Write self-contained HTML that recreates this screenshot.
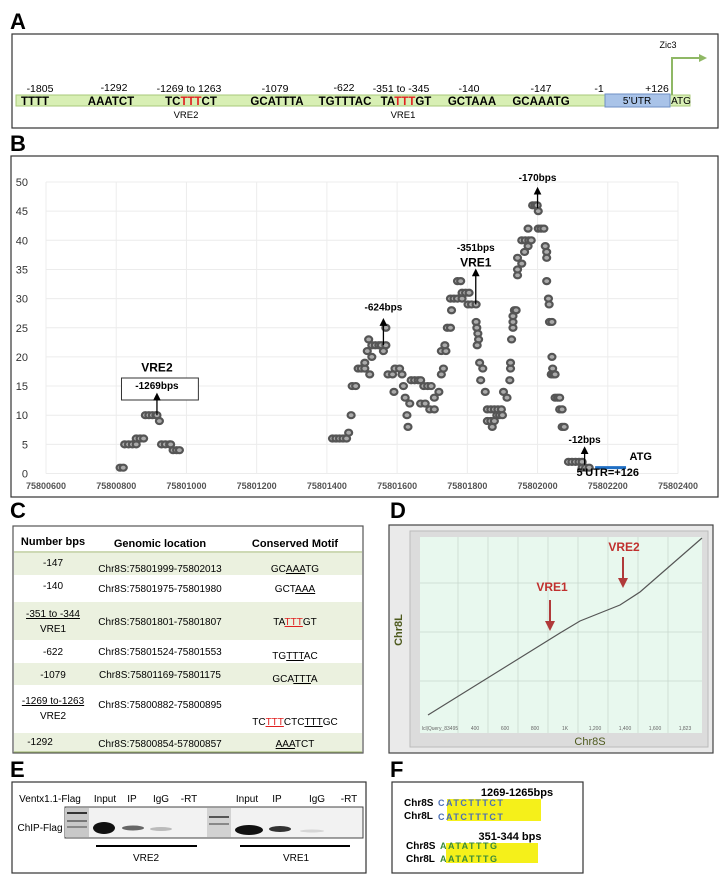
<!DOCTYPE html>
<html><head><meta charset="utf-8"><style>
html,body{margin:0;padding:0;background:#fff;}
svg{display:block;font-family:"Liberation Sans",sans-serif;}
.pl{font-size:22px;font-weight:bold;fill:#000;}
</style></head><body>
<svg id="fig" width="726" height="887" viewBox="0 0 726 887" xmlns="http://www.w3.org/2000/svg">
<defs><marker id="ah" markerWidth="6" markerHeight="6" refX="3" refY="3" orient="auto"><path d="M0,0 L6,3 L0,6 z" fill="#000"/></marker>
<marker id="rh" markerWidth="5" markerHeight="5" refX="2.5" refY="2.5" orient="auto"><path d="M0,0 L5,2.5 L0,5 z" fill="#b03a3a"/></marker></defs>

<!-- Panel A -->
<text class="pl" x="10" y="29">A</text>
<g>
<rect x="12" y="34" width="706" height="94" fill="#fff" stroke="#333" stroke-width="1.2"/>
<rect x="16" y="95" width="674" height="11" fill="#d8efb4" stroke="#a9c97a"/>
<rect x="605" y="94" width="65" height="13" fill="#a9c3e8" stroke="#6e8fc4"/>
<text x="637" y="104" font-size="10" text-anchor="middle">5’UTR</text>
<text x="681" y="104" font-size="10" text-anchor="middle">ATG</text>
<polyline points="672,95 672,58 700,58" fill="none" stroke="#8fb865" stroke-width="2"/>
<path d="M699,54 L707,58 L699,62 z" fill="#8fb865"/>
<text x="668" y="48" font-size="9" text-anchor="middle">Zic3</text>
<g font-size="10.5" text-anchor="middle">
<text x="40" y="92">-1805</text><text x="114" y="91">-1292</text><text x="189" y="92">-1269 to 1263</text>
<text x="275" y="92">-1079</text><text x="344" y="91">-622</text><text x="401" y="92">-351 to -345</text>
<text x="469" y="92">-140</text><text x="541" y="92">-147</text><text x="599" y="92">-1</text><text x="657" y="92">+126</text>
</g>
<g font-size="11.5" font-weight="bold" text-anchor="middle">
<text x="35" y="105">TTTT</text><text x="111" y="105">AAATCT</text>
<text x="191" y="105">TC<tspan fill="#e02020">TTT</tspan>CT</text>
<text x="277" y="105">GCATTTA</text><text x="345" y="105">TGTTTAC</text>
<text x="406" y="105">TA<tspan fill="#e02020">TTT</tspan>GT</text>
<text x="472" y="105">GCTAAA</text><text x="541" y="105">GCAAATG</text>
</g>
<text x="186" y="118" font-size="9.5" text-anchor="middle">VRE2</text>
<text x="403" y="118" font-size="9.5" text-anchor="middle">VRE1</text>
</g>

<!-- Panel B -->
<text class="pl" x="10" y="151">B</text>
<rect x="11" y="156" width="707" height="341" fill="#fff" stroke="#333" stroke-width="1.2"/>
<g id="chartB"></g>

<!-- Panel C -->
<text class="pl" x="10" y="518">C</text>
<g font-size="10">
<rect x="13" y="526" width="350" height="227" fill="#fff" stroke="#555" stroke-width="1.2"/>
<rect x="14" y="553" width="348" height="22" fill="#ebf1df"/>
<rect x="14" y="602" width="348" height="38" fill="#ebf1df"/>
<rect x="14" y="663" width="348" height="22" fill="#ebf1df"/>
<rect x="14" y="733" width="348" height="19" fill="#ebf1df"/>
<line x1="14" y1="552" x2="362" y2="552" stroke="#9bb36a"/>
<line x1="14" y1="752" x2="362" y2="752" stroke="#9bb36a"/>
<g font-weight="bold" font-size="11" text-anchor="middle"><text x="53" y="545">Number bps</text><text x="160" y="547">Genomic location</text><text x="295" y="547">Conserved Motif</text></g>
<g text-anchor="middle">
<text x="53" y="566">-147</text><text x="160" y="572">Chr8S:75801999-75802013</text><text x="295" y="572">GC<tspan text-decoration="underline">AAA</tspan>TG</text>
<text x="53" y="589">-140</text><text x="160" y="592">Chr8S:75801975-75801980</text><text x="295" y="592">GCT<tspan text-decoration="underline">AAA</tspan></text>
<text x="53" y="617" text-decoration="underline">-351 to -344</text><text x="53" y="632">VRE1</text><text x="160" y="625">Chr8S:75801801-75801807</text><text x="295" y="625">TA<tspan fill="#e02020" text-decoration="underline">TTT</tspan>GT</text>
<text x="53" y="655">-622</text><text x="160" y="655">Chr8S:75801524-75801553</text><text x="295" y="659">TG<tspan text-decoration="underline">TTT</tspan>AC</text>
<text x="53" y="678">-1079</text><text x="160" y="678">Chr8S:75801169-75801175</text><text x="295" y="682">GCA<tspan text-decoration="underline">TTT</tspan>A</text>
<text x="53" y="704" text-decoration="underline">-1269 to-1263</text><text x="53" y="719">VRE2</text><text x="160" y="708">Chr8S:75800882-75800895</text><text x="295" y="725">TC<tspan fill="#e02020" text-decoration="underline">TTT</tspan>CTC<tspan text-decoration="underline">TTT</tspan>GC</text>
<text x="40" y="745">-1292</text><text x="160" y="747">Chr8S:75800854-57800857</text><text x="295" y="747"><tspan text-decoration="underline">AAA</tspan>TCT</text>
</g></g>

<!-- Panel D -->
<text class="pl" x="390" y="518">D</text>
<g>
<rect x="389" y="525" width="324" height="228" fill="#eaeaea" stroke="#444" stroke-width="1.2"/>
<rect x="410" y="531" width="298" height="216" fill="#dcdcdc" stroke="#bbb"/>
<rect x="420" y="537" width="282" height="196" fill="#e8f8ee"/>
<g stroke="#c8d8ce" stroke-width="0.8">
<line x1="458" y1="537" x2="458" y2="733"/><line x1="488" y1="537" x2="488" y2="733"/><line x1="518" y1="537" x2="518" y2="733"/><line x1="548" y1="537" x2="548" y2="733"/><line x1="578" y1="537" x2="578" y2="733"/><line x1="608" y1="537" x2="608" y2="733"/><line x1="638" y1="537" x2="638" y2="733"/><line x1="668" y1="537" x2="668" y2="733"/>
<line x1="420" y1="583" x2="702" y2="583"/><line x1="420" y1="632" x2="702" y2="632"/><line x1="420" y1="681" x2="702" y2="681"/>
</g>
<polyline points="428,715 560,633 580,621 600,613 620,605 640,592 702,538" fill="none" stroke="#555" stroke-width="1.2"/>
<g font-size="5" fill="#666" text-anchor="middle"><text x="440" y="730">lcl|Query_83495</text><text x="475" y="730">400</text><text x="505" y="730">600</text><text x="535" y="730">800</text><text x="565" y="730">1K</text><text x="595" y="730">1,200</text><text x="625" y="730">1,400</text><text x="655" y="730">1,600</text><text x="685" y="730">1,823</text></g>
<text x="590" y="745" font-size="11" fill="#4e5a1e" text-anchor="middle">Chr8S</text>
<text x="402" y="630" font-size="11" font-weight="bold" fill="#4e5a1e" text-anchor="middle" transform="rotate(-90 402 630)">Chr8L</text>
<text x="552" y="591" font-size="12" font-weight="bold" fill="#c0302e" text-anchor="middle">VRE1</text>
<line x1="550" y1="600" x2="550" y2="626" stroke="#b03a3a" stroke-width="2" marker-end="url(#rh)"/>
<text x="624" y="551" font-size="12" font-weight="bold" fill="#c0302e" text-anchor="middle">VRE2</text>
<line x1="623" y1="557" x2="623" y2="583" stroke="#b03a3a" stroke-width="2" marker-end="url(#rh)"/>
</g>

<!-- Panel E -->
<text class="pl" x="10" y="777">E</text>
<g>
<rect x="12" y="782" width="354" height="91" fill="#fff" stroke="#333" stroke-width="1.2"/>
<g font-size="10" text-anchor="middle"><text x="50" y="802">Ventx1.1-Flag</text><text x="105" y="802">Input</text><text x="132" y="802">IP</text><text x="161" y="802">IgG</text><text x="189" y="802">-RT</text><text x="247" y="802">Input</text><text x="277" y="802">IP</text><text x="317" y="802">IgG</text><text x="349" y="802">-RT</text>
<text x="40" y="831">ChIP-Flag</text></g>
<rect x="65" y="807" width="298" height="31" fill="#f2f2f2" stroke="#444"/>
<rect x="65" y="808" width="24" height="29" fill="#c8c8c8"/>
<rect x="67" y="812" width="20" height="2" fill="#333"/><rect x="67" y="820" width="20" height="2" fill="#777"/><rect x="67" y="826" width="20" height="2" fill="#888"/>
<rect x="207" y="808" width="24" height="29" fill="#d2d2d2"/>
<rect x="209" y="816" width="20" height="2" fill="#555"/><rect x="209" y="823" width="20" height="2" fill="#888"/>
<ellipse cx="104" cy="828" rx="11" ry="6" fill="#111"/>
<ellipse cx="133" cy="828" rx="11" ry="2.5" fill="#666"/>
<ellipse cx="161" cy="829" rx="11" ry="2" fill="#bbb"/>
<ellipse cx="249" cy="830" rx="14" ry="5" fill="#111"/>
<ellipse cx="280" cy="829" rx="11" ry="3" fill="#333"/>
<ellipse cx="312" cy="831" rx="12" ry="1.5" fill="#d6d6d6"/>
<line x1="96" y1="846" x2="197" y2="846" stroke="#000" stroke-width="2"/>
<line x1="240" y1="846" x2="350" y2="846" stroke="#000" stroke-width="2"/>
<text x="146" y="861" font-size="10" text-anchor="middle">VRE2</text><text x="296" y="861" font-size="10" text-anchor="middle">VRE1</text>
</g>

<!-- Panel F -->
<text class="pl" x="390" y="777">F</text>
<g>
<rect x="392" y="782" width="191" height="91" fill="#fff" stroke="#333" stroke-width="1.2"/>
<text x="517" y="796" font-size="11" font-weight="bold" text-anchor="middle">1269-1265bps</text>
<rect x="447" y="799" width="94" height="22" fill="#f5f01a"/>
<text x="404" y="806" font-size="10" font-weight="bold">Chr8S</text><text x="404" y="819" font-size="10" font-weight="bold">Chr8L</text>
<text x="438" y="806" font-size="9" font-weight="bold" fill="#4b6fb5" letter-spacing="1.5">CATCTTTCT</text>
<text x="438" y="820" font-size="9" font-weight="bold" fill="#4b6fb5" letter-spacing="1.5">CATCTTTCT</text>
<text x="510" y="840" font-size="11" font-weight="bold" text-anchor="middle">351-344 bps</text>
<rect x="446" y="843" width="92" height="20" fill="#f5f01a"/>
<text x="406" y="849" font-size="10" font-weight="bold">Chr8S</text><text x="406" y="862" font-size="10" font-weight="bold">Chr8L</text>
<text x="440" y="849" font-size="9" font-weight="bold" fill="#3a8a3a" letter-spacing="1.5">AATATTTG</text>
<text x="440" y="862" font-size="9" font-weight="bold" fill="#3a8a3a" letter-spacing="1.5">AATATTTG</text>
</g>
</svg>
<script>
const xTicks = [75800600,75800800,75801000,75801200,75801400,75801600,75801800,75802000,75802200,75802400];
const yTicks = [0,5,10,15,20,25,30,35,40,45,50];
const posX = [75800811,75800820,75800824,75800835,75800846,75800857,75800857,75800868,75800878,75800883,75800893,75800903,75800913,75800916,75800923,75800929,75800940,75800952,75800955,75800962,75800972,75800980,
75801416,75801426,75801436,75801446,75801456,75801462,75801469,75801472,75801482,75801489,75801498,75801508,75801508,75801522,75801515,75801528,75801538,75801548,75801555,75801519,75801528,75801568,75801568,75801561,
75801574,75801587,75801594,75801607,75801614,75801591,75801618,75801623,75801628,75801631,75801636,75801640,75801650,75801660,75801667,75801667,75801680,75801676,75801687,75801697,75801693,75801706,75801706,75801719,75801726,75801732,75801726,75801739,75801736,75801743,75801752,75801755,
75801752,75801762,75801772,75801785,75801772,75801781,75801785,75801795,75801805,75801802,75801812,75801825,75801825,75801827,75801830,75801832,75801828,75801835,75801844,75801838,75801851,75801857,75801867,75801877,75801887,75801897,75801857,75801867,75801877,75801871,75801884,75801892,75801900,
75801903,75801913,75801921,75801923,75801923,75801926,75801930,75801930,75801930,75801934,75801939,75801943,75801943,75801943,75801955,75801963,75801955,75801965,75801975,75801982,75801973,75801973,75801986,75801993,75801999,75802002,75802002,75802010,75802018,75802022,75802026,75802026,75802026,
75802031,75802033,75802034,75802041,75802041,75802043,75802039,75802045,75802050,75802050,75802057,75802063,75802063,75802070,75802070,75802076,75802088,75802098,75802108,75802118,75802127,75802127,75802137,75802147];
const posY = [1,1,5,5,5,5,6,6,6,10,10,10,10,10,9,5,5,5,5,4,4,4,
6,6,6,6,6,7,10,15,15,18,18,18,19,17,21,22,22,22,22,23,20,25,22,21,
17,17,18,18,17,14,15,13,10,8,12,16,16,16,16,12,12,15,15,15,11,11,13,14,17,18,21,21,22,25,25,28,
30,30,30,30,33,33,31,31,31,29,29,29,26,25,24,23,22,19,18,16,14,11,11,11,11,11,9,9,9,8,10,10,10,
14,13,16,18,19,23,25,26,27,28,28,34,35,37,36,38,40,40,40,40,42,39,46,46,46,45,42,42,42,39,38,37,33,
30,29,26,26,20,18,17,17,17,13,13,13,11,11,8,8,2,2,2,2,2,1,1,1];
const annX = [75800916,75801561,75801824,75802000,75802134];
const annLabels = ['-1269bps','-624bps','-351bps','-170bps','-12bps'];
const annFrom = [10,22,29,45.5,1.5];
const annTo = [13.2,26,34.5,48.5,4];
const annTextY = [14.5,28,38.2,50.2,5.2];

const NS='http://www.w3.org/2000/svg';
const g=document.getElementById('chartB');
const X0=46, X1=678, Y0=473.5, Y1=182;
const xMin=75800600, xMax=75802400, yMin=0, yMax=50;
function sx(v){return X0+(v-xMin)/(xMax-xMin)*(X1-X0);}
function sy(v){return Y0-(v-yMin)/(yMax-yMin)*(Y0-Y1);}
function mk(tag,attrs,parent){const e=document.createElementNS(NS,tag);for(const k in attrs)e.setAttribute(k,attrs[k]);(parent||g).appendChild(e);return e;}

xTicks.forEach((t,i)=>{
  const l=mk('line',{x1:sx(t),x2:sx(t),y1:Y1,y2:Y0,stroke:'#ececec','stroke-width':1});
  
  
  const tx=mk('text',{x:sx(t),y:489,'font-size':9,'font-weight':'bold','text-anchor':'middle',fill:'#555'});
  tx.textContent=t;
  
  
});
yTicks.forEach(t=>{
  const l=mk('line',{x1:X0,x2:X1,y1:sy(t),y2:sy(t),stroke:'#ececec','stroke-width':1});
  
  
  const tx=mk('text',{x:28,y:sy(t)+4,'font-size':11,'text-anchor':'end',fill:'#333'});
  tx.textContent=t;
  
  
});
posX.forEach((v,i)=>{
  const c=mk('ellipse',{cx:sx(v),cy:sy(posY[i]),rx:3.5,ry:3,fill:'#aaaaaa',stroke:'#555','stroke-width':2.2});
  
  
});
const bx=mk('rect',{x:sx(75800815),y:378,width:sx(75801034)-sx(75800815),height:22,fill:'#fff',stroke:'#333','stroke-width':1});


const v2=mk('text',{x:sx(75800916),y:sy(17.5),'font-size':12,'font-weight':'bold','text-anchor':'middle'});
v2.textContent='VRE2';


const v1=mk('text',{x:sx(75801824),y:sy(35.5),'font-size':12,'font-weight':'bold','text-anchor':'middle'});
v1.textContent='VRE1';


annX.forEach((v,i)=>{
  const a=mk('line',{x1:sx(v),x2:sx(v),y1:sy(annFrom[i]),y2:sy(annTo[i]),stroke:'#000','stroke-width':1.3,'marker-end':'url(#ah)'});
  
  
  const t=mk('text',{x:sx(v),y:sy(annTextY[i]),'font-size':10,'font-weight':'bold','text-anchor':'middle'});
  t.textContent=annLabels[i];
  
  
});
const utr=mk('line',{x1:sx(75802164),x2:sx(75802252),y1:sy(1),y2:sy(1),stroke:'#1f6fc4','stroke-width':3});


const atg=mk('text',{x:sx(75802262),y:sy(2.3),'font-size':11,'font-weight':'bold'});
atg.textContent='ATG';


const ut=mk('text',{x:sx(75802200),y:sy(-0.4),'font-size':11,'font-weight':'bold','text-anchor':'middle'});
ut.textContent="5'UTR=+126";


</script>
</body></html>
